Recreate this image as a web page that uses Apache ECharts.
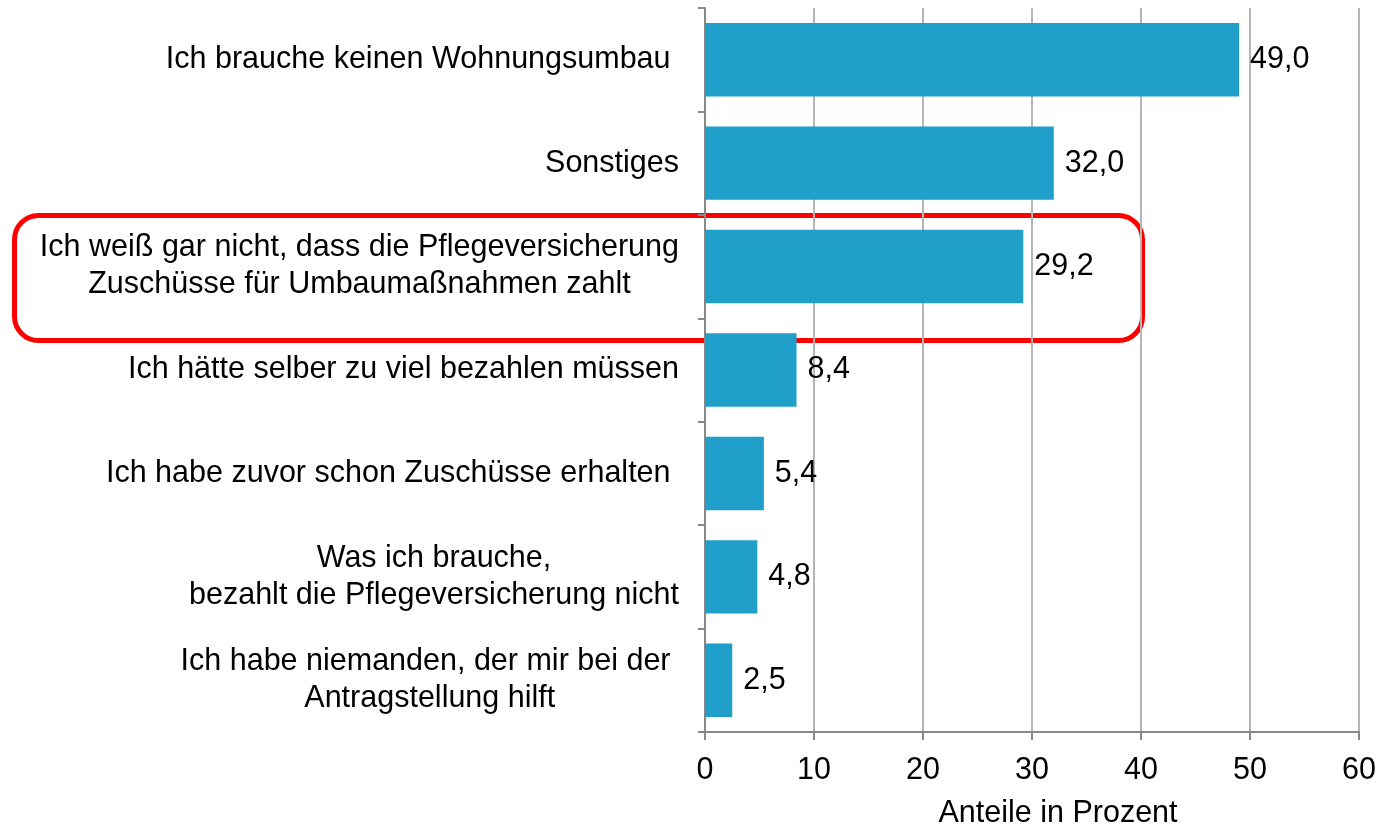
<!DOCTYPE html>
<html><head><meta charset="utf-8">
<script src="https://cdn.jsdelivr.net/npm/echarts@6/dist/echarts.min.js"></script>
<style>html,body{margin:0;padding:0;background:#fff}#c{width:1380px;height:828px}</style>
</head><body><div id="c"></div>
<script>
const categories = [
  "Ich brauche keinen Wohnungsumbau ",
  "Sonstiges",
  "Ich weiß gar nicht, dass die Pflegeversicherung\nZuschüsse für Umbaumaßnahmen zahlt",
  "Ich hätte selber zu viel bezahlen müssen",
  "Ich habe zuvor schon Zuschüsse erhalten ",
  "Was ich brauche,\nbezahlt die Pflegeversicherung nicht",
  "Ich habe niemanden, der mir bei der \nAntragstellung hilft"
];
const values = [49.0, 32.0, 29.2, 8.4, 5.4, 4.8, 2.5];
const xTicks = [0, 10, 20, 30, 40, 50, 60];
const xAxisName = "Anteile in Prozent";

const FONT = "'Liberation Sans', Arial, sans-serif";
const FS = 30.5;
const chart = echarts.init(document.getElementById('c'), null, {renderer: 'canvas'});
chart.setOption({
  animation: false,
  grid: {left: 705, right: 21, top: 8, bottom: 96, outerBoundsMode: 'none', containLabel: false},
  xAxis: {
    type: 'value', min: xTicks[0], max: xTicks[xTicks.length-1], interval: 10,
    name: xAxisName, nameLocation: 'middle', nameGap: 66,
    nameTextStyle: {fontFamily: FONT, fontSize: FS, color: '#000', padding: [0,0,0,52]},
    axisLine: {show: true, lineStyle: {color: '#888', width: 2}},
    axisTick: {show: true, length: 8, lineStyle: {color: '#888', width: 2}},
    axisLabel: {fontFamily: FONT, fontSize: FS, color: '#000', margin: 23},
    splitLine: {show: true, lineStyle: {color: '#b5b5b5', width: 2}}
  },
  yAxis: {
    type: 'category', inverse: true, data: categories,
    axisLine: {show: true, lineStyle: {color: '#888', width: 2}},
    axisTick: {show: true, length: 7, lineStyle: {color: '#888', width: 2}},
    axisLabel: {
      margin: 26, color: '#000',
      formatter: v => v.split('\n').map(s => '{c|' + s + '}').join('\n'),
      rich: {c: {fontFamily: FONT, fontSize: FS, color: '#000', align: 'center', lineHeight: 37}}
    }
  },
  series: [{
    type: 'bar', data: values, barCategoryGap: '29%',
    itemStyle: {color: '#209fcb'},
    label: {show: true, position: 'right', distance: 11, fontFamily: FONT, fontSize: FS, color: '#000',
      formatter: p => p.value.toFixed(1).replace('.', ',')}
  }],
  graphic: [{
    type: 'rect', left: 12, top: 213, silent: true,
    shape: {width: 1128, height: 125, r: 24},
    style: {fill: 'none', stroke: '#ff0000', lineWidth: 5}
  }]
});
</script></body></html>
